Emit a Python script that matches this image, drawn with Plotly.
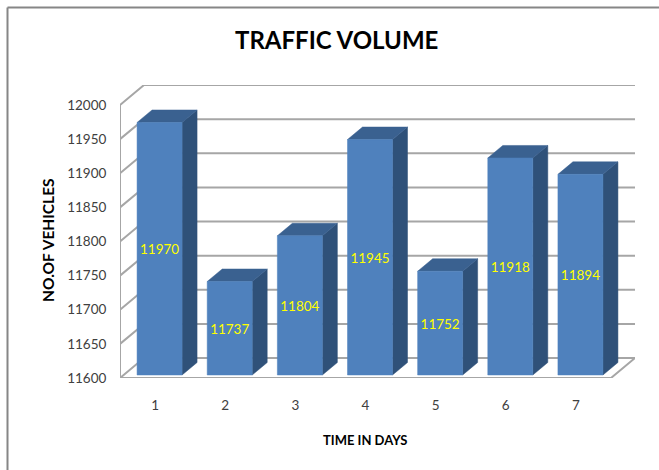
import plotly.graph_objects as go

# Traffic counts per day
days = [1, 2, 3, 4, 5, 6, 7]
vehicles = [11970, 11737, 11804, 11945, 11752, 11918, 11894]
y_ticks = [11600, 11650, 11700, 11750, 11800, 11850, 11900, 11950, 12000]

Y_MIN, Y_MAX = 11600, 12000

# Pixel layout of the pseudo-3D box
W, H = 659, 470
LEFT, FLOOR_Y, TOP_Y, SLOT_END = 120, 378, 105, 611
DEPTH_X_PX, DEPTH_Y_PX = 24, 20
PX_PER_X = (SLOT_END - LEFT) / len(days)
PX_PER_Y = (FLOOR_Y - TOP_Y) / (Y_MAX - Y_MIN)

# Depth offsets converted to axis units
wall_dx = DEPTH_X_PX / PX_PER_X
wall_dy = DEPTH_Y_PX / PX_PER_Y
bar_shift_x = 4.5 / PX_PER_X
bar_shift_y = 3 / PX_PER_Y
bar_half = 22.5 / PX_PER_X
bar_dx = 15 / PX_PER_X
bar_dy = 12.5 / PX_PER_Y

x_lo, x_hi = 0.5, 7.5

fig = go.Figure()

# Walls and floor: every tick gets a slanted stub on the side wall and a line on the back wall
wx, wy = [], []
for t in y_ticks:
    wx += [x_lo, x_lo + wall_dx, x_hi + wall_dx, None]
    wy += [t, t + wall_dy, t + wall_dy, None]
wx += [x_lo, x_lo, None, x_lo, x_hi, x_hi + wall_dx, None]
wy += [Y_MIN, Y_MAX, None, Y_MIN, Y_MIN, Y_MIN + wall_dy, None]
fig.add_trace(go.Scatter(x=wx, y=wy, mode="lines",
                         line=dict(color="#a6a6a6", width=2),
                         hoverinfo="skip", showlegend=False))


def faces(kind):
    xs, ys = [], []
    base = Y_MIN + bar_shift_y
    for d, v in zip(days, vehicles):
        l = d + bar_shift_x - bar_half
        r = d + bar_shift_x + bar_half
        top = v + bar_shift_y
        if kind == "front":
            xs += [l, r, r, l, l, None]
            ys += [base, base, top, top, base, None]
        elif kind == "side":
            xs += [r, r + bar_dx, r + bar_dx, r, r, None]
            ys += [base, base + bar_dy, top + bar_dy, top, base, None]
        else:
            xs += [l, r, r + bar_dx, l + bar_dx, l, None]
            ys += [top, top, top + bar_dy, top + bar_dy, top, None]
    return xs, ys


for kind, colour in (("side", "#2f5179"), ("top", "#3a6190"), ("front", "#4f81bd")):
    xs, ys = faces(kind)
    fig.add_trace(go.Scatter(x=xs, y=ys, mode="lines", fill="toself",
                             fillcolor=colour, line=dict(color=colour, width=0.5),
                             hoverinfo="skip", showlegend=False))

# Value labels centred on the front faces
label_drop = 2 / PX_PER_Y
label_y = [(Y_MIN + bar_shift_y + v + bar_shift_y) / 2 - label_drop for v in vehicles]
fig.add_trace(go.Scatter(x=[d + bar_shift_x for d in days], y=label_y, mode="text",
                         text=[str(v) for v in vehicles], textposition="middle center",
                         textfont=dict(family="Lato", size=13.5, color="#ffff00"),
                         hoverinfo="skip", showlegend=False))

plot_w = SLOT_END + DEPTH_X_PX - LEFT
plot_h = FLOOR_Y - (TOP_Y - DEPTH_Y_PX)


def px(x):
    return (x - LEFT) / plot_w


def py(y):
    return (FLOOR_Y - y) / plot_h


# Outer chart frame: left and top edges only reach the page
frame = dict(type="line", xref="paper", yref="paper", layer="below",
             line=dict(color="#868686", width=2))
fig.add_shape(x0=px(7.5), x1=px(7.5), y0=py(7.5), y1=py(H + 5), **frame)
fig.add_shape(x0=px(7.5), x1=px(W + 5), y0=py(7.5), y1=py(7.5), **frame)

title_style = dict(xref="paper", yref="paper", showarrow=False, xanchor="center", yanchor="middle")

fig.update_layout(
    width=W, height=H, autosize=False,
    margin=dict(l=LEFT, r=W - (SLOT_END + DEPTH_X_PX), t=TOP_Y - DEPTH_Y_PX, b=H - FLOOR_Y, pad=0),
    paper_bgcolor="white", plot_bgcolor="rgba(0,0,0,0)",
    showlegend=False,
    font=dict(family="Lato", color="#000000"),
    xaxis=dict(range=[x_lo, x_hi + wall_dx], tickmode="array", tickvals=days,
               ticktext=[str(d) for d in days], showgrid=False, zeroline=False, showline=False,
               ticks="outside", ticklen=15, tickcolor="rgba(0,0,0,0)",
               tickfont=dict(family="Lato", size=13.5, color="#404040"), fixedrange=True),
    yaxis=dict(range=[Y_MIN, Y_MAX + wall_dy], tickmode="array", tickvals=y_ticks,
               ticktext=[str(t) for t in y_ticks], showgrid=False, zeroline=False, showline=False,
               ticks="outside", ticklen=10, tickcolor="rgba(0,0,0,0)",
               tickfont=dict(family="Lato", size=13.5, color="#404040"), fixedrange=True),
    annotations=[
        dict(text="<b>TRAFFIC VOLUME</b>", x=px(336), y=py(40),
             font=dict(family="Lato", size=24, color="#000000"), **title_style),
        dict(text="<b>TIME IN DAYS</b>", x=px(365), y=py(439.5),
             font=dict(family="Lato", size=13, color="#000000"), **title_style),
        dict(text="<b>NO.OF VEHICLES</b>", x=px(48), y=py(240), textangle=-90,
             font=dict(family="Lato", size=15.5, color="#000000"), **title_style),
    ],
)

fig.write_html("out.html", config=dict(displayModeBar=False))
